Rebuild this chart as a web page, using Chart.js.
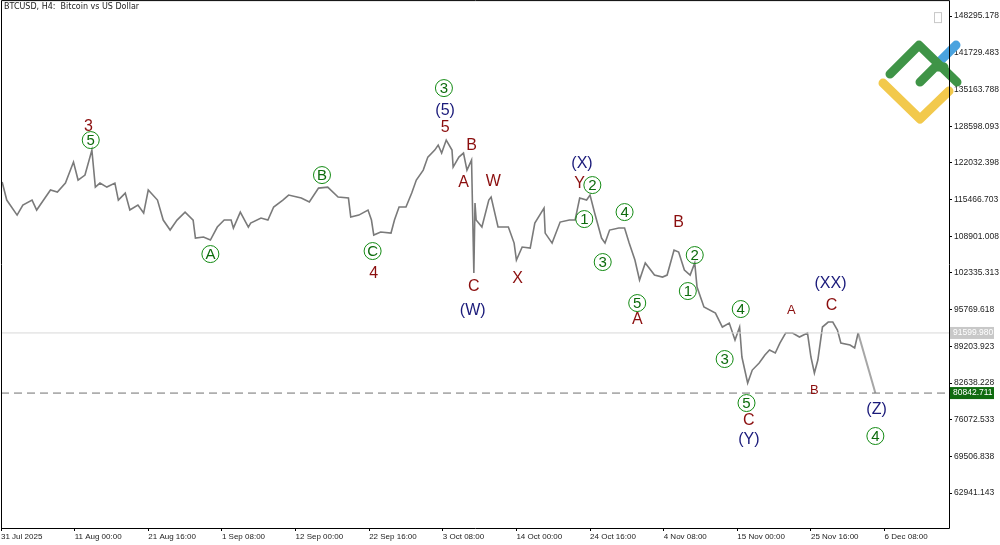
<!DOCTYPE html>
<html>
<head>
<meta charset="utf-8">
<script src="https://cdn.jsdelivr.net/npm/chart.js@4.4.1/dist/chart.umd.min.js"></script>
<style>
  html,body{margin:0;padding:0;background:#fff;overflow:hidden;}
  #wrap{width:1000px;height:545px;overflow:hidden;}
  #c{display:block;margin-top:-7px;}
</style>
</head>
<body>
<div id="wrap"><canvas id="c" width="1000" height="552"></canvas></div>
<script>
// H4 bar index (0 = 31 Jul 2025) and price
const bars = [1,5,14,19,27,31,37,43,49,56,63,67,73,79,82,86,92,99,102,108,112,119,124,128,136,141,147,153,160,167,169,176,182,188,194,200,202,208,215,217,226,232,237,245,250,261,268,276,284,293,302,304,311,319,322,324,330,339,342,346,352,357,361,367,371,377,380,383,387,392,393,398,402,405,409,411,412,413,418,424,426,432,441,446,448,453,460,464,472,473,479,486,494,499,503,509,512,516,522,525,529,537,542,546,551,555,560,568,575,579,585,589,594,599,603,605,611,621,627,633,638,642,644,649,653,659,664,668,673,677,682,688,694,701,704,707,710,714,719,723,727,730,738,742,745];
const prices = [118600,115380,112690,114480,115380,113590,115380,117170,116810,118420,122180,118960,119850,124320,117700,118420,117700,118420,115380,116630,113590,114480,113050,117170,115380,111800,110010,111800,113230,111800,108580,108760,108220,110550,111800,111800,110370,113230,110550,111260,112160,111800,114130,115380,116270,115740,115020,117520,117700,115910,115740,112340,112690,113590,111800,109120,109670,109470,111800,114130,114130,116630,118960,120740,123070,124320,125220,123790,126110,124320,121280,123070,123790,120740,122530,102320,114840,111800,110550,115380,115910,110550,110550,107680,104640,106970,106790,111260,113950,109470,107680,111440,111800,111800,115740,115380,116270,113050,108580,107680,110010,110370,110370,107680,104640,101070,104110,101960,101600,101960,106430,106070,102850,101960,104110,99810,96240,95160,92660,93370,90330,92660,87290,82640,84960,86220,87650,88540,88010,89790,91580,91580,90870,91580,87290,84430,86750,92660,93550,93550,92120,89790,89440,88900,91600];
const projBars = [745, 760];
const projPrices = [91600, 80842.711];
const currentPrice = 91599.980;
const targetPrice = 80842.711;

const yTicks = [148295.178,141729.483,135163.788,128598.093,122032.398,115466.703,108901.008,102335.313,95769.618,89203.923,82638.228,76072.533,69506.838,62941.143];
const xTickBars = [0,64,128,192,256,320,384,448,512,576,640,704,768];
const xTickLabels = ['31 Jul 2025','11 Aug 00:00','21 Aug 16:00','1 Sep 08:00','12 Sep 00:00','22 Sep 16:00','3 Oct 08:00','14 Oct 00:00','24 Oct 16:00','4 Nov 08:00','15 Nov 00:00','25 Nov 16:00','6 Dec 08:00'];

// wave labels: bar, price, text, kind (r = red, b = blue, g = circled green, s = small red)
const waveBars   = [76,78,182,279,323,324,385,386,386,409,402,428,411,410,449,505,503,514,507,542,523,553,553,589,603,597,643,629,648,650,650,687,721,722,707,761,760];
const wavePrices = [128437,126111,105716,119849,106253,102138,135414,131299,128258,125037,118418,118597,99813,95520,101244,121817,118239,118060,111978,113230,104285,96950,93909,111262,105537,99097,95877,86932,79060,75838,72441,95698,100349,96413,81386,77808,73156];
const waveTexts  = ['3','5','A','B','C','4','3','(5)','5','B','A','W','C','(W)','X','(X)','Y','2','1','4','3','5','A','B','2','1','4','3','5','C','(Y)','A','(XX)','C','B','(Z)','4'];
const waveKinds  = ['r','g','g','g','g','r','g','b','r','r','r','r','r','b','r','b','r','g','g','g','g','g','r','r','g','g','g','g','g','r','b','s','b','r','s','b','g'];

const overlay = {
  id: 'overlay',
  afterDatasetsDraw(chart){
    const {ctx, chartArea:a, scales:{x, y}} = chart;
    const top = a.top;
    ctx.save();
    // current price line
    const yc = y.getPixelForValue(currentPrice);
    ctx.strokeStyle = '#d8d8d8'; ctx.lineWidth = 1;
    ctx.beginPath(); ctx.moveTo(a.left, yc); ctx.lineTo(a.right, yc); ctx.stroke();
    // target dashed line
    const yt = y.getPixelForValue(targetPrice);
    ctx.strokeStyle = '#707070'; ctx.setLineDash([8,5]);
    ctx.beginPath(); ctx.moveTo(a.left, yt); ctx.lineTo(a.right, yt); ctx.stroke();
    ctx.setLineDash([]);

    // wave labels
    ctx.textAlign = 'center'; ctx.textBaseline = 'middle';
    waveTexts.forEach((t, i) => {
      const px = x.getPixelForValue(waveBars[i]);
      const py = y.getPixelForValue(wavePrices[i]);
      const k = waveKinds[i];
      if (k === 'g'){
        ctx.strokeStyle = '#128a12'; ctx.lineWidth = 1;
        ctx.beginPath(); ctx.arc(px, py, 8.5, 0, Math.PI*2); ctx.stroke();
        ctx.fillStyle = '#0d6b0d'; ctx.font = '15px "Liberation Sans"';
        ctx.fillText(t, px, py + 1);
      } else {
        ctx.fillStyle = k === 'b' ? '#1a1a7a' : '#8b0e0e';
        ctx.font = (k === 's' ? '13px' : '16px') + ' "Liberation Sans"';
        ctx.fillText(t, px, py);
      }
    });

    // title
    ctx.textAlign = 'left';
    ctx.fillStyle = '#222'; ctx.font = '8px "DejaVu Sans"';
    ctx.fillText('BTCUSD, H4:  Bitcoin vs US Dollar', 4, top + 7);

    // small button
    ctx.strokeStyle = '#c8c8c8';
    ctx.strokeRect(934.5, top + 12.5, 7, 10);

    // logo
    ctx.lineCap = 'round'; ctx.lineJoin = 'round'; ctx.lineWidth = 9;
    ctx.strokeStyle = '#f2c94c';
    ctx.beginPath(); ctx.moveTo(883, top + 83); ctx.lineTo(920, top + 119); ctx.lineTo(949, top + 91); ctx.stroke();
    ctx.strokeStyle = '#4aa3df';
    ctx.beginPath(); ctx.moveTo(940, top + 61); ctx.lineTo(956, top + 45); ctx.stroke();
    ctx.strokeStyle = '#3f9447';
    ctx.beginPath(); ctx.moveTo(890, top + 74); ctx.lineTo(919, top + 45); ctx.lineTo(957, top + 82); ctx.stroke();
    ctx.beginPath(); ctx.moveTo(920, top + 82); ctx.lineTo(935, top + 67); ctx.lineTo(944, top + 67); ctx.stroke();

    // price boxes on axis
    ctx.lineCap = 'butt';
    ctx.font = '8.5px "Liberation Sans"'; ctx.textBaseline = 'middle';
    ctx.fillStyle = '#c8c8c8'; ctx.fillRect(a.right + 1, yc - 6, 44, 12);
    ctx.fillStyle = '#fff'; ctx.fillText(currentPrice.toFixed(3), a.right + 4, yc);
    ctx.fillStyle = '#0f6b0f'; ctx.fillRect(a.right + 1, yt - 6, 44, 12);
    ctx.fillStyle = '#fff'; ctx.fillText(targetPrice.toFixed(3), a.right + 4, yt);

    // frame
    ctx.strokeStyle = '#000'; ctx.lineWidth = 1;
    ctx.strokeRect(a.left + 0.5, a.top + 0.5, a.right - a.left, a.bottom - a.top);
    ctx.restore();
  }
};

new Chart(document.getElementById('c'), {
  type: 'line',
  data: {
    datasets: [
      { data: bars.map((b, i) => ({x: b, y: prices[i]})), borderColor: '#7a7a7a', borderWidth: 1.6, pointRadius: 0, tension: 0 },
      { data: projBars.map((b, i) => ({x: b, y: projPrices[i]})), borderColor: '#a6a6a6', borderWidth: 2, pointRadius: 0 }
    ]
  },
  options: {
    responsive: false, animation: false,
    layout: { padding: { left: 1, top: 0, right: 0, bottom: 0 } },
    plugins: { legend: { display: false }, tooltip: { enabled: false } },
    scales: {
      x: {
        type: 'linear', min: 0, max: 824,
        afterBuildTicks: s => { s.ticks = xTickBars.map(v => ({value: v})); },
        afterFit: s => { s.height = 17; },
        grid: { drawOnChartArea: false, tickLength: 3, color: '#000' },
        border: { display: false },
        ticks: { maxRotation: 0, autoSkip: false, align: 'start', padding: 1, color: '#222', font: { size: 8, family: 'Liberation Sans' },
          callback: (v) => xTickLabels[xTickBars.indexOf(v)] }
      },
      y: {
        position: 'right', min: 56700, max: 151157,
        afterBuildTicks: s => { s.ticks = yTicks.map(v => ({value: v})); },
        afterFit: s => { s.width = 51; },
        grid: { drawOnChartArea: false, tickLength: 3, color: '#000' },
        border: { display: false },
        ticks: { autoSkip: false, padding: 2, color: '#222', font: { size: 8.5, family: 'Liberation Sans' },
          callback: v => v.toFixed(3) }
      }
    }
  },
  plugins: [overlay]
});
</script>
</body>
</html>
